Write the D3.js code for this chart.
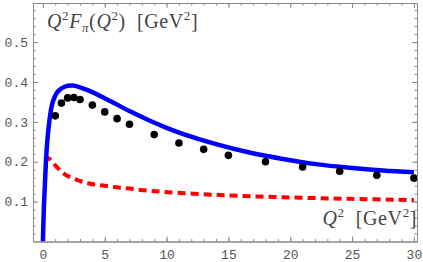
<!DOCTYPE html>
<html>
<head>
<meta charset="utf-8">
<script src="https://cdn.jsdelivr.net/npm/d3@7"></script>
<style>
  body { margin: 0; background: #fff; }
  svg { display: block; }
</style>
</head>
<body>
<div id="chart"></div>
<script>
// data points (Q^2, Q^2 F_pi)
var dataQ2 = [1, 1.5, 2, 2.5, 3, 4, 5, 6, 7, 9, 11, 13, 15, 18, 21, 24, 27, 30];
var dataF  = [0.315, 0.347, 0.36, 0.361, 0.356, 0.342, 0.325, 0.308, 0.294, 0.268,
              0.247, 0.231, 0.216, 0.2, 0.187, 0.176, 0.166, 0.159];

// solid blue curve
var blueQ2 = [0.0, 0.08, 0.16, 0.27, 0.4, 0.59, 0.81, 1.21, 1.75, 2.43, 3.23, 4.04, 5.52, 7.0, 8.7, 10, 11.3, 14, 16.7, 19.4, 22.1, 24.8, 27.5, 30];
var blueF  = [0.0, 0.084, 0.142, 0.213, 0.267, 0.317, 0.351, 0.376, 0.388, 0.391, 0.384, 0.374, 0.351, 0.327, 0.302, 0.285, 0.27, 0.244, 0.223, 0.207, 0.194, 0.185, 0.178, 0.1735];

// dashed red curve
var redQ2 = [0.08, 0.5, 1.03, 1.75, 2.64, 3.64, 4.7, 5.66, 6.77, 8.65, 14, 19.4, 24.8, 30];
var redF  = [0.213, 0.208, 0.19, 0.169, 0.156, 0.146, 0.141, 0.137, 0.1335, 0.127, 0.117, 0.111, 0.107, 0.104];

var xMajor = [0, 5, 10, 15, 20, 25, 30];
var yMajor = [0.1, 0.2, 0.3, 0.4, 0.5];

var width = 423, height = 262;
var fLeft = 33, fRight = 417, fTop = 3, fBottom = 241.5;

var svg = d3.select("#chart").append("svg")
    .attr("width", width)
    .attr("height", height);

var x = d3.scaleLinear().domain([-0.8, 30.25]).range([fLeft, fRight]);
var y = d3.scaleLinear().domain([0, 0.598]).range([fBottom, fTop]);

var xMinor = d3.range(0, 31, 1);
var yMinor = d3.range(0.02, 0.6, 0.02);

var tickFont = "'Liberation Mono', 'DejaVu Sans Mono', monospace";
var frameCol = "#888";

function styleAxis(g) {
    g.selectAll("path").attr("stroke", frameCol).attr("stroke-width", 1);
    g.selectAll("line").attr("stroke", frameCol).attr("stroke-width", 1);
    g.selectAll("text").attr("fill", "#555").style("font-family", tickFont).style("font-size", "13px");
}

// bottom
svg.append("g").attr("transform", "translate(0," + fBottom + ")")
    .call(d3.axisBottom(x).tickValues(xMinor).tickSize(-2.5).tickSizeOuter(0).tickFormat(""))
    .call(styleAxis);
svg.append("g").attr("transform", "translate(0," + fBottom + ")")
    .call(d3.axisBottom(x).tickValues(xMajor).tickSize(-5).tickSizeOuter(0).tickPadding(8).tickFormat(d3.format("d")))
    .call(styleAxis);
// top
svg.append("g").attr("transform", "translate(0," + fTop + ")")
    .call(d3.axisTop(x).tickValues(xMinor).tickSize(-2.5).tickSizeOuter(0).tickFormat(""))
    .call(styleAxis);
svg.append("g").attr("transform", "translate(0," + fTop + ")")
    .call(d3.axisTop(x).tickValues(xMajor).tickSize(-5).tickSizeOuter(0).tickFormat(""))
    .call(styleAxis);
// left
svg.append("g").attr("transform", "translate(" + fLeft + ",0)")
    .call(d3.axisLeft(y).tickValues(yMinor).tickSize(-2.5).tickSizeOuter(0).tickFormat(""))
    .call(styleAxis);
svg.append("g").attr("transform", "translate(" + fLeft + ",0)")
    .call(d3.axisLeft(y).tickValues(yMajor).tickSize(-5).tickSizeOuter(0).tickPadding(5).tickFormat(d3.format(".1f")))
    .call(styleAxis);
// right
svg.append("g").attr("transform", "translate(" + fRight + ",0)")
    .call(d3.axisRight(y).tickValues(yMinor).tickSize(-2.5).tickSizeOuter(0).tickFormat(""))
    .call(styleAxis);
svg.append("g").attr("transform", "translate(" + fRight + ",0)")
    .call(d3.axisRight(y).tickValues(yMajor).tickSize(-5).tickSizeOuter(0).tickFormat(""))
    .call(styleAxis);

// clip to the frame
svg.append("clipPath").attr("id", "frame")
    .append("rect").attr("x", fLeft).attr("y", fTop)
    .attr("width", fRight - fLeft).attr("height", fBottom - fTop);

var plot = svg.append("g").attr("clip-path", "url(#frame)");

var line = d3.line()
    .x(function(d) { return x(d[0]); })
    .y(function(d) { return y(d[1]); })
    .curve(d3.curveCatmullRom.alpha(0.5));

plot.append("path")
    .datum(d3.zip(redQ2, redF))
    .attr("d", line)
    .attr("fill", "none")
    .attr("stroke", "#ff0000")
    .attr("stroke-width", 4)
    .attr("stroke-dasharray", "8,5");

plot.append("path")
    .datum(d3.zip(blueQ2, blueF))
    .attr("d", line)
    .attr("fill", "none")
    .attr("stroke", "#0000ff")
    .attr("stroke-width", 4.5);

plot.selectAll(".pt")
    .data(d3.zip(dataQ2, dataF)).enter().append("circle")
    .attr("class", "pt")
    .attr("cx", function(d) { return x(d[0]); })
    .attr("cy", function(d) { return y(d[1]); })
    .attr("r", 3.8)
    .attr("fill", "#000");

// labels
var serif = "'Liberation Serif', 'DejaVu Serif', serif";
var t1 = svg.append("text")
    .attr("x", 47).attr("y", 28)
    .attr("fill", "#444")
    .style("font-family", serif).style("font-size", "20px")
    .style("letter-spacing", "0.6px");
t1.append("tspan").style("font-style", "italic").text("Q");
t1.append("tspan").attr("dy", -8).style("font-size", "13px").text("2");
t1.append("tspan").attr("dy", 8).style("font-style", "italic").text("F");
t1.append("tspan").attr("dy", 4).style("font-size", "13px").style("font-style", "italic").text("π");
t1.append("tspan").attr("dy", -4).text("(");
t1.append("tspan").style("font-style", "italic").text("Q");
t1.append("tspan").attr("dy", -8).style("font-size", "13px").text("2");
t1.append("tspan").attr("dy", 8).text(")\u00a0\u00a0[GeV");
t1.append("tspan").attr("dy", -8).style("font-size", "13px").text("2");
t1.append("tspan").attr("dy", 8).text("]");

var t2 = svg.append("text")
    .attr("x", 417).attr("y", 225)
    .attr("text-anchor", "end")
    .attr("fill", "#444")
    .style("font-family", serif).style("font-size", "20px")
    .style("letter-spacing", "0.6px");
t2.append("tspan").style("font-style", "italic").text("Q");
t2.append("tspan").attr("dy", -8).style("font-size", "13px").text("2");
t2.append("tspan").attr("dy", 8).text("\u00a0\u00a0[GeV");
t2.append("tspan").attr("dy", -8).style("font-size", "13px").text("2");
t2.append("tspan").attr("dy", 8).text("]");
</script>
</body>
</html>
